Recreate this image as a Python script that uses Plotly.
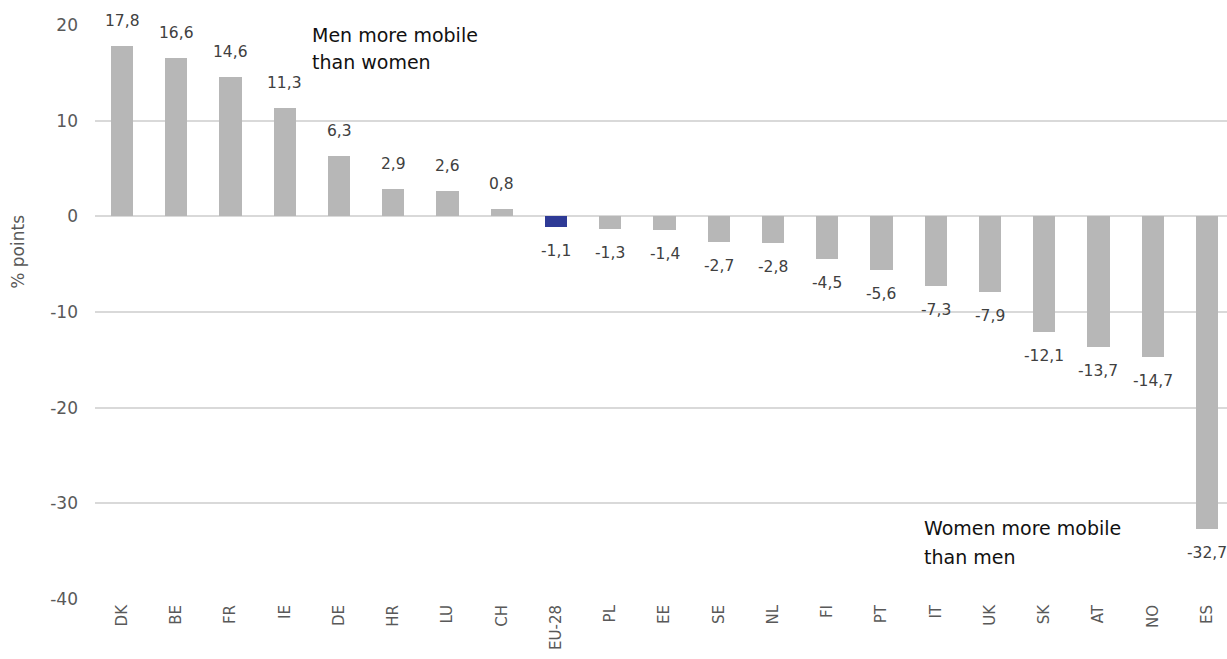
import plotly.graph_objects as go

countries = ["DK", "BE", "FR", "IE", "DE", "HR", "LU", "CH", "EU-28", "PL", "EE",
             "SE", "NL", "FI", "PT", "IT", "UK", "SK", "AT", "NO", "ES"]
values = [17.8, 16.6, 14.6, 11.3, 6.3, 2.9, 2.6, 0.8, -1.1, -1.3, -1.4,
          -2.7, -2.8, -4.5, -5.6, -7.3, -7.9, -12.1, -13.7, -14.7, -32.7]
highlight = "EU-28"
y_ticks = [20, 10, 0, -10, -20, -30, -40]
y_title = "% points"
notes = [
    ("Men more mobile", 3.46, 18.95),
    ("than women", 3.46, 16.1),
    ("Women more mobile", 14.75, -32.55),
    ("than men", 14.75, -35.6),
]

GREY = "#b7b7b7"
NAVY = "#2e3a96"
colors = [NAVY if c == highlight else GREY for c in countries]
xs = list(range(len(countries)))

fig = go.Figure()
fig.add_trace(go.Bar(x=xs, y=values, marker=dict(color=colors, line=dict(width=0)),
                     width=0.41, showlegend=False, hoverinfo="x+y"))

annotations = []
for x, v in zip(xs, values):
    annotations.append(dict(
        x=x, y=v, xref="x", yref="y", text=f"{v:.1f}".replace(".", ","),
        showarrow=False, yanchor="middle", xanchor="center",
        yshift=25 if v >= 0 else -24,
        font=dict(family="DejaVu Sans", size=15.5, color="#404040")))
for txt, x, y in notes:
    annotations.append(dict(x=x, y=y, xref="x", yref="y", text=txt, showarrow=False,
                            xanchor="left", yanchor="middle",
                            font=dict(family="DejaVu Sans", size=19, color="#111111")))
annotations.append(dict(x=0, y=0.605, xref="paper", yref="paper", text=y_title,
                        showarrow=False, textangle=-90, xanchor="center", yanchor="middle",
                        xshift=-77,
                        font=dict(family="DejaVu Sans", size=17, color="#595959")))

fig.update_layout(
    width=1227, height=659,
    margin=dict(l=95, r=0, t=25, b=60),
    paper_bgcolor="white", plot_bgcolor="white",
    annotations=annotations,
    bargap=0,
)
fig.update_xaxes(
    tickmode="array", tickvals=xs, ticktext=countries, tickangle=-90,
    range=[-0.5, 20.37], showgrid=False, zeroline=False, showline=False,
    tickfont=dict(family="DejaVu Sans", size=15, color="#595959"),
    ticklabelstandoff=2, automargin=False,
)
fig.update_yaxes(
    range=[-40, 20], tickmode="array", tickvals=y_ticks,
    ticktext=[str(t) for t in y_ticks],
    showgrid=True, gridcolor="#d9d9d9", gridwidth=1.5,
    zeroline=True, zerolinecolor="#d9d9d9", zerolinewidth=1.5,
    showline=False,
    tickfont=dict(family="DejaVu Sans", size=17, color="#595959"),
    ticklabelstandoff=16, automargin=False,
)

fig.write_html("out.html", config={"displayModeBar": False},
               post_script="document.body.style.margin='0';document.body.style.overflow='hidden';")
